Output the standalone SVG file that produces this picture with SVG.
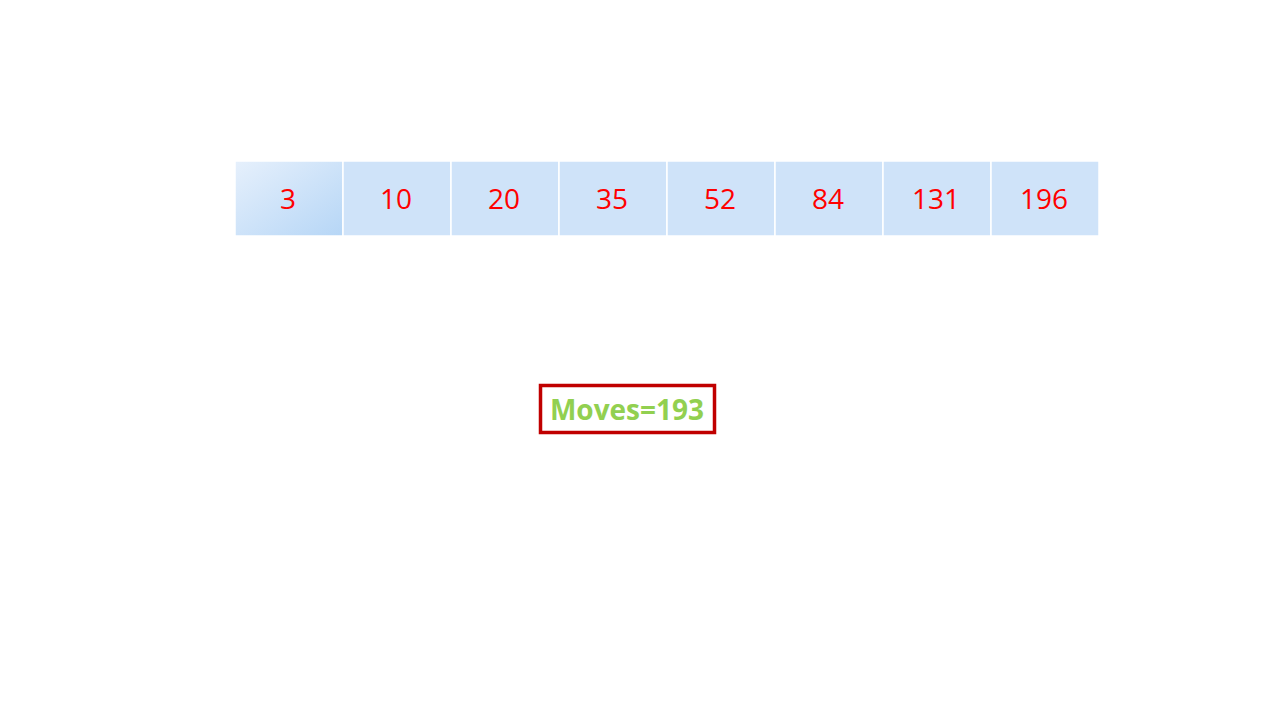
<svg xmlns="http://www.w3.org/2000/svg" width="1280" height="720" viewBox="0 0 1280 720">
<defs>
<linearGradient id="g1" x1="0" y1="0" x2="1" y2="1">
<stop offset="0" stop-color="#e6f0fc"/>
<stop offset="1" stop-color="#b6d6f6"/>
</linearGradient>
<style>
.cell{fill:#cfe3f9;stroke:#ffffff;stroke-width:1.5}
.num{font-family:"Open Sans","Liberation Sans",sans-serif;font-size:28px;fill:#ff0000;text-anchor:middle}
.mv{font-family:"Open Sans","Liberation Sans",sans-serif;font-weight:bold;font-size:28px;fill:#92d050;text-anchor:middle}
</style>
</defs>
<rect width="1280" height="720" fill="#ffffff"/>
<g id="cell0"><rect class="cell" x="235" y="161" width="108" height="75" style="fill:url(#g1)"/><text class="num" x="288" y="209">3</text></g>
<g id="cell1"><rect class="cell" x="343" y="161" width="108" height="75"/><text class="num" x="396" y="209">10</text></g>
<g id="cell2"><rect class="cell" x="451" y="161" width="108" height="75"/><text class="num" x="504" y="209">20</text></g>
<g id="cell3"><rect class="cell" x="559" y="161" width="108" height="75"/><text class="num" x="612" y="209">35</text></g>
<g id="cell4"><rect class="cell" x="667" y="161" width="108" height="75"/><text class="num" x="720" y="209">52</text></g>
<g id="cell5"><rect class="cell" x="775" y="161" width="108" height="75"/><text class="num" x="828" y="209">84</text></g>
<g id="cell6"><rect class="cell" x="883" y="161" width="108" height="75"/><text class="num" x="936" y="209">131</text></g>
<g id="cell7"><rect class="cell" x="991" y="161" width="108" height="75"/><text class="num" x="1044" y="209">196</text></g>
<g id="moves"><rect x="540.5" y="385.5" width="174" height="47" fill="#ffffff" stroke="#c00000" stroke-width="3.5"/><text class="mv" x="627" y="420">Moves=193</text></g>
</svg>
